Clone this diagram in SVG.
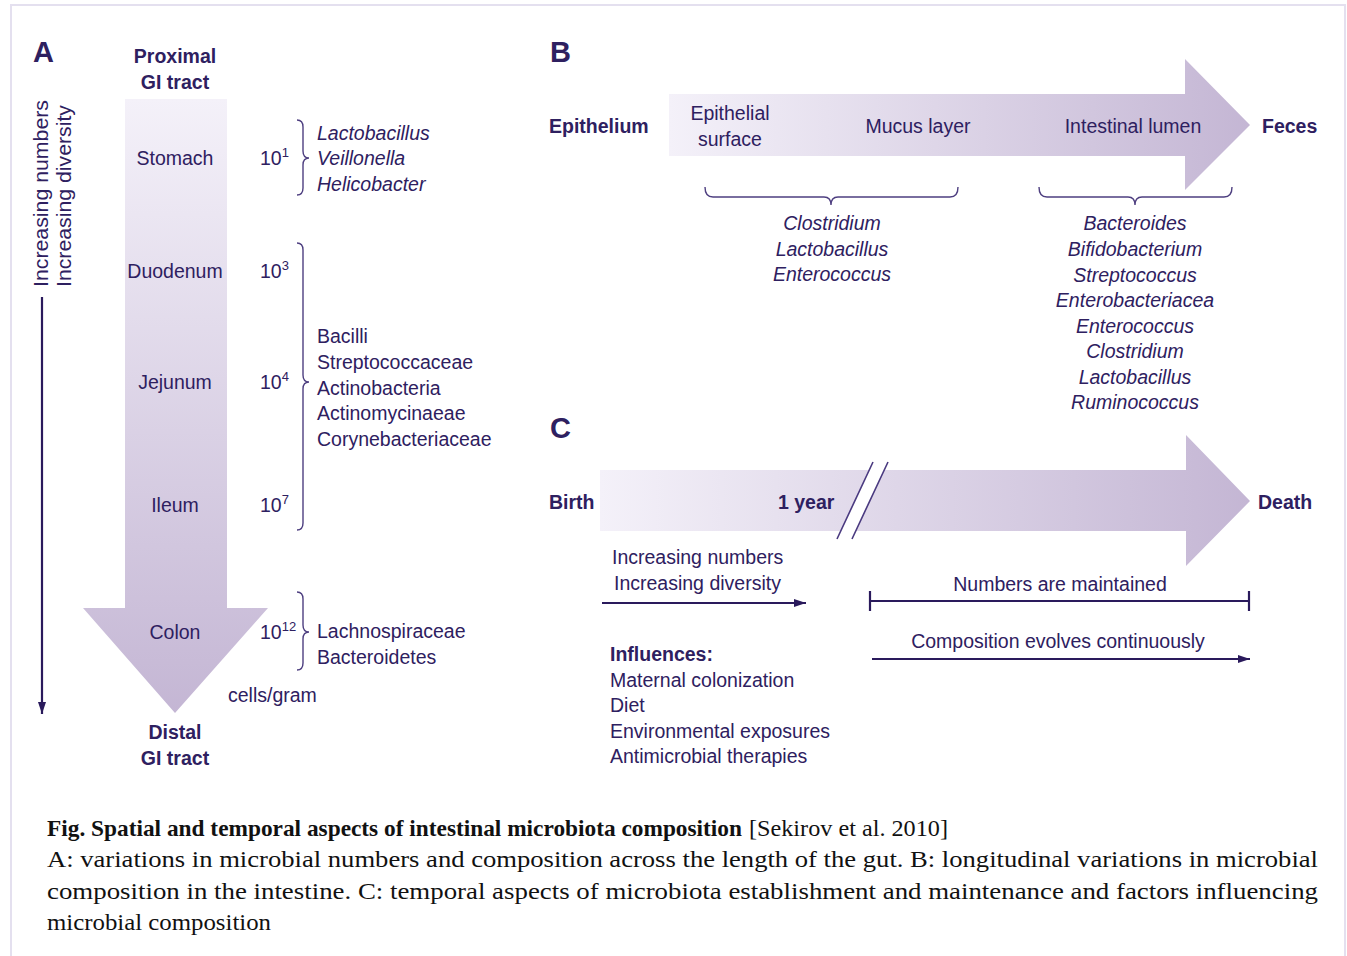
<svg xmlns="http://www.w3.org/2000/svg" width="1347" height="956" viewBox="0 0 1347 956">
<defs>
<linearGradient id="gv" x1="0" y1="0" x2="0" y2="1">
<stop offset="0" stop-color="#f4f1f9"/><stop offset="1" stop-color="#c4b6d4"/>
</linearGradient>
<linearGradient id="gh" x1="0" y1="0" x2="1" y2="0">
<stop offset="0" stop-color="#f4f1f9"/><stop offset="1" stop-color="#c4b6d4"/>
</linearGradient>
<marker id="ah" viewBox="0 0 12 9" refX="12" refY="4.5" markerWidth="12" markerHeight="9" orient="auto" markerUnits="userSpaceOnUse">
<path d="M0,0.5 L12,4.5 L0,8.5 Z" fill="#2a1a5c"/>
</marker>
<style>
text{font-family:"Liberation Sans",Arial,sans-serif;fill:#2e2060;font-size:19.5px}
.b{font-weight:bold}
.i{font-style:italic}
.big{font-size:29px;font-weight:bold}
.m{text-anchor:middle}
.br{fill:none;stroke:#4e3f80;stroke-width:1.4}
.ln{fill:none;stroke:#2a1a5c;stroke-width:2.2}
.cap{font-family:"Liberation Serif","Times New Roman",serif;fill:#111;font-size:23px}
</style>
</defs>
<rect x="11" y="5" width="1334" height="970" fill="#fff" stroke="#e4e0ef" stroke-width="2"/>

<g id="panelA">
<text x="33" y="62" class="big">A</text>
<text x="175" y="63" class="b m">Proximal</text>
<text x="175" y="89" class="b m">GI tract</text>
<path d="M125,99 H227 V608 H268 L175,713 L83,608 H125 Z" fill="url(#gv)"/>
<g id="regions">
<text x="175" y="165" class="m">Stomach</text>
<text x="175" y="278" class="m">Duodenum</text>
<text x="175" y="389" class="m">Jejunum</text>
<text x="175" y="512" class="m">Ileum</text>
<text x="175" y="639" class="m">Colon</text>
</g>
<g id="counts">
<text x="260" y="165">10<tspan dy="-8" font-size="13">1</tspan></text>
<text x="260" y="278">10<tspan dy="-8" font-size="13">3</tspan></text>
<text x="260" y="389">10<tspan dy="-8" font-size="13">4</tspan></text>
<text x="260" y="512">10<tspan dy="-8" font-size="13">7</tspan></text>
<text x="260" y="639">10<tspan dy="-8" font-size="13">12</tspan></text>
</g>
<text x="228" y="702">cells/gram</text>
<text x="175" y="739" class="b m">Distal</text>
<text x="175" y="765" class="b m">GI tract</text>
<g id="taxaA">
<text x="317" y="140" class="i">Lactobacillus</text>
<text x="317" y="165" class="i">Veillonella</text>
<text x="317" y="191" class="i">Helicobacter</text>
<text x="317" y="343">Bacilli</text>
<text x="317" y="369">Streptococcaceae</text>
<text x="317" y="395">Actinobacteria</text>
<text x="317" y="420">Actinomycinaeae</text>
<text x="317" y="446">Corynebacteriaceae</text>
<text x="317" y="638">Lachnospiraceae</text>
<text x="317" y="664">Bacteroidetes</text>
</g>
<text transform="translate(48,287) rotate(-90)" textLength="187" lengthAdjust="spacingAndGlyphs">Increasing numbers</text>
<text transform="translate(71,287) rotate(-90)" textLength="182" lengthAdjust="spacingAndGlyphs">Increasing diversity</text>
</g>

<g id="panelB">
<text x="550" y="62" class="big">B</text>
<path d="M669,94 H1185 V59 L1250,125 L1185,190 V156 H669 Z" fill="url(#gh)"/>
<text x="549" y="133" class="b">Epithelium</text>
<text x="730" y="120" class="m">Epithelial</text>
<text x="730" y="146" class="m">surface</text>
<text x="918" y="133" class="m">Mucus layer</text>
<text x="1133" y="133" class="m">Intestinal lumen</text>
<text x="1262" y="133" class="b">Feces</text>
<g id="taxaB1">
<text x="832" y="230" class="i m">Clostridium</text>
<text x="832" y="256" class="i m">Lactobacillus</text>
<text x="832" y="281" class="i m">Enterococcus</text>
</g>
<g id="taxaB2">
<text x="1135" y="230" class="i m">Bacteroides</text>
<text x="1135" y="256" class="i m">Bifidobacterium</text>
<text x="1135" y="282" class="i m">Streptococcus</text>
<text x="1135" y="307" class="i m">Enterobacteriacea</text>
<text x="1135" y="333" class="i m">Enterococcus</text>
<text x="1135" y="358" class="i m">Clostridium</text>
<text x="1135" y="384" class="i m">Lactobacillus</text>
<text x="1135" y="409" class="i m">Ruminococcus</text>
</g>
</g>

<g id="panelC">
<text x="550" y="438" class="big">C</text>
<path d="M600,470 H1186 V435 L1250,501 L1186,566 V531 H600 Z" fill="url(#gh)"/>
<path d="M873,462 L888,462 L852,539 L837,539 Z" fill="#fff"/>
<path d="M873,462 L837,539 M888,462 L852,539" fill="none" stroke="#4a3a80" stroke-width="1.6"/>
<text x="549" y="509" class="b">Birth</text>
<text x="778" y="509" class="b">1 year</text>
<text x="1258" y="509" class="b">Death</text>
<text x="612" y="564">Increasing numbers</text>
<text x="614" y="590">Increasing diversity</text>
<text x="1060" y="591" class="m">Numbers are maintained</text>
<text x="1058" y="648" class="m">Composition evolves continuously</text>
<text x="610" y="661" class="b">Influences:</text>
<text x="610" y="687">Maternal colonization</text>
<text x="610" y="712">Diet</text>
<text x="610" y="738">Environmental exposures</text>
<text x="610" y="763">Antimicrobial therapies</text>
</g>

<g id="connectors">
<line x1="42" y1="297" x2="42" y2="714" class="ln" stroke-width="2" marker-end="url(#ah)"/>
<path class="br" d="M297,120 Q303,120 303,127 V151 Q303,158 309,158 Q303,158 303,165 V188 Q303,195 297,195"/>
<path class="br" d="M297,243 Q303,243 303,250 V375 Q303,382 309,382 Q303,382 303,389 V523 Q303,530 297,530"/>
<path class="br" d="M297,592 Q303,592 303,599 V625 Q303,632 309,632 Q303,632 303,639 V663 Q303,670 297,670"/>
<path class="br" d="M705,187 Q705,197 713,197 H824 Q831,197 831,205 Q831,197 838,197 H950 Q958,197 958,187"/>
<path class="br" d="M1039,187 Q1039,197 1047,197 H1128 Q1135,197 1135,205 Q1135,197 1142,197 H1224 Q1232,197 1232,187"/>
<line x1="602" y1="603" x2="806" y2="603" class="ln" marker-end="url(#ah)"/>
<path class="ln" d="M870,601 H1249 M870,591 V611 M1249,591 V611"/>
<line x1="872" y1="659" x2="1250" y2="659" class="ln" marker-end="url(#ah)"/>
</g>

<g id="caption">
<text x="47" y="836" class="cap"><tspan font-weight="bold" textLength="695" lengthAdjust="spacingAndGlyphs">Fig. Spatial and temporal aspects of intestinal microbiota composition</tspan><tspan x="749" textLength="199" lengthAdjust="spacingAndGlyphs">[Sekirov et al. 2010]</tspan></text>
<text x="47" y="867" class="cap" textLength="1271" lengthAdjust="spacingAndGlyphs">A: variations in microbial numbers and composition across the length of the gut. B: longitudinal variations in microbial</text>
<text x="47" y="899" class="cap" textLength="1271" lengthAdjust="spacingAndGlyphs">composition in the intestine. C: temporal aspects of microbiota establishment and maintenance and factors influencing</text>
<text x="47" y="930" class="cap" textLength="224" lengthAdjust="spacingAndGlyphs">microbial composition</text>
</g>
</svg>
